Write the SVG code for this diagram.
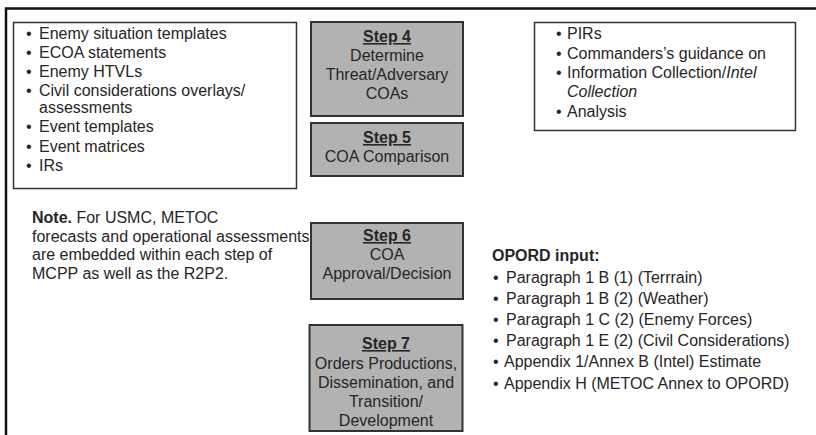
<svg xmlns="http://www.w3.org/2000/svg" width="816" height="435" viewBox="0 0 816 435">
  <style>
    text { font-family: "Liberation Sans", Arial, sans-serif; font-size: 16px; fill: #262626; }
    .frame { fill: none; stroke: #111; stroke-width: 2.5; }
    .box { fill: #fff; stroke: #333; stroke-width: 1.5; }
    .step { fill: #b2b2b2; stroke: #333; stroke-width: 2; }
    .ctr { text-anchor: middle; }
    .b { font-weight: bold; }
    .u { text-decoration: underline; }
    .i { font-style: italic; }
  </style>

  <!-- frame edges (top and left only) -->
  <path class="frame" d="M6 435 V8.5 H816"/>

  <!-- threat products list -->
  <g id="products">
    <rect class="box" x="13.5" y="22.5" width="283" height="166"/>
    <text x="26" y="39">•</text><text x="39" y="39">Enemy situation templates</text>
    <text x="26" y="58">•</text><text x="39" y="58">ECOA statements</text>
    <text x="26" y="77">•</text><text x="39" y="77">Enemy HTVLs</text>
    <text x="26" y="96">•</text><text x="39" y="96">Civil considerations overlays/</text>
    <text x="39" y="113">assessments</text>
    <text x="26" y="132">•</text><text x="39" y="132">Event templates</text>
    <text x="26" y="152">•</text><text x="39" y="152">Event matrices</text>
    <text x="26" y="171">•</text><text x="39" y="171">IRs</text>
  </g>

  <!-- commander guidance list -->
  <g id="guidance">
    <rect class="box" x="534.5" y="22.5" width="261" height="108"/>
    <text x="556" y="39">•</text><text x="567" y="39">PIRs</text>
    <text x="556" y="59">•</text><text x="567" y="59">Commanders’s guidance on</text>
    <text x="556" y="78">•</text><text x="567" y="78">Information Collection/<tspan class="i">Intel</tspan></text>
    <text x="567" y="97" class="i">Collection</text>
    <text x="556" y="117">•</text><text x="567" y="117">Analysis</text>
  </g>

  <g id="step4">
    <rect class="step" x="311" y="22" width="152" height="94"/>
    <text class="ctr b u" x="387" y="42">Step 4</text>
    <text class="ctr" x="387" y="61">Determine</text>
    <text class="ctr" x="387" y="80">Threat/Adversary</text>
    <text class="ctr" x="387" y="99">COAs</text>
  </g>

  <g id="step5">
    <rect class="step" x="311" y="123" width="152" height="53"/>
    <text class="ctr b u" x="387" y="143">Step 5</text>
    <text class="ctr" x="387" y="162">COA Comparison</text>
  </g>

  <g id="step6">
    <rect class="step" x="311" y="223" width="152" height="76"/>
    <text class="ctr b u" x="387" y="241">Step 6</text>
    <text class="ctr" x="387" y="260">COA</text>
    <text class="ctr" x="387" y="279">Approval/Decision</text>
  </g>

  <g id="step7">
    <rect class="step" x="309.5" y="325" width="153" height="106"/>
    <text class="ctr b u" x="386" y="349">Step 7</text>
    <text class="ctr" x="386" y="369">Orders Productions,</text>
    <text class="ctr" x="386" y="388">Dissemination, and</text>
    <text class="ctr" x="386" y="407">Transition/</text>
    <text class="ctr" x="386" y="426">Development</text>
  </g>

  <g id="note">
    <text x="32" y="223"><tspan class="b">Note.</tspan> For USMC, METOC</text>
    <text x="32" y="242">forecasts and operational assessments</text>
    <text x="32" y="260">are embedded within each step of</text>
    <text x="32" y="279">MCPP as well as the R2P2.</text>
  </g>

  <g id="opord">
    <text class="b" x="492" y="261">OPORD input:</text>
    <text x="493" y="283">•</text><text x="506" y="283">Paragraph 1 B (1) (Terrrain)</text>
    <text x="493" y="304">•</text><text x="506" y="304">Paragraph 1 B (2) (Weather)</text>
    <text x="493" y="325">•</text><text x="506" y="325">Paragraph 1 C (2) (Enemy Forces)</text>
    <text x="493" y="346">•</text><text x="506" y="346">Paragraph 1 E (2) (Civil Considerations)</text>
    <text x="493" y="367">•</text><text x="504" y="367">Appendix 1/Annex B (Intel) Estimate</text>
    <text x="493" y="389">•</text><text x="504" y="389">Appendix H (METOC Annex to OPORD)</text>
  </g>

  <!-- no connectors in this figure -->
  <g id="connectors"/>
</svg>
